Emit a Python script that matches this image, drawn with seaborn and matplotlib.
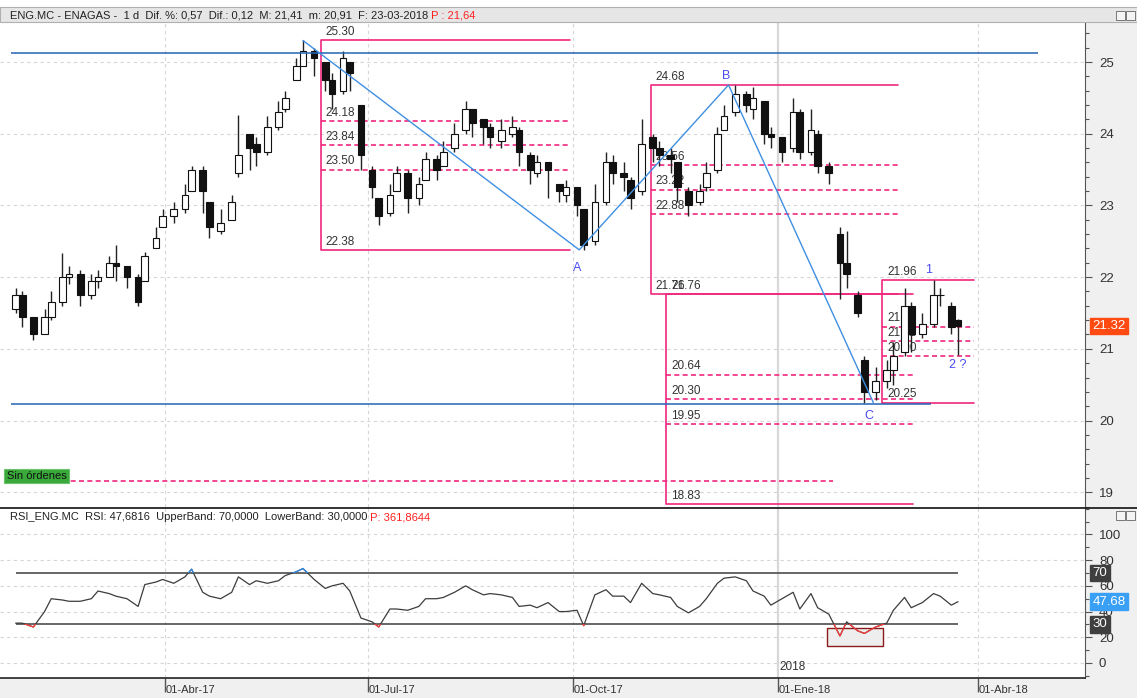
import numpy as np
import pandas as pd
import matplotlib
matplotlib.use("Agg")
import matplotlib.pyplot as plt
import matplotlib.dates as mdates
from matplotlib.patches import Rectangle
from matplotlib.lines import Line2D
from matplotlib.ticker import MultipleLocator
import seaborn as sns

# candles, one every 3 sessions up to the last session
last_session = "2018-03-23"
opens = [21.55, 21.75, 21.45, 21.2, 21.45, 21.65, 22.0, 22.05, 21.75, 21.95,
         22.0, 22.2, 22.15, 22.0, 21.95, 22.4, 22.7, 22.85, 22.95, 23.2,
         23.5, 23.05, 22.65, 22.8, 23.45, 24.0, 23.85, 23.75, 24.1, 24.35,
         24.75, 24.95, 25.15, 25.0, 24.75, 24.6, 25.0, 24.4, 23.5, 23.1,
         22.9, 23.2, 23.45, 23.1, 23.35, 23.65, 23.55, 23.8, 24.05, 24.35,
         24.2, 24.1, 23.9, 24.0, 24.05, 23.7, 23.45, 23.6, 23.3, 23.15,
         23.25, 22.95, 22.5, 23.05, 23.6, 23.45, 23.35, 23.2, 23.95, 23.8,
         23.7, 23.6, 23.2, 23.05, 23.25, 23.5, 24.05, 24.3, 24.55, 24.35,
         24.45, 24.0, 23.95, 23.8, 24.3, 23.75, 24.0, 23.55, 22.6, 22.2,
         21.75, 20.85, 20.4, 20.55, 20.7, 20.95, 21.6, 21.2, 21.35, 21.75,
         21.6, 21.4]
highs = [21.85, 21.8, 21.4, 21.55, 21.8, 22.33, 22.15, 22.1, 22.05, 22.1,
         22.3, 22.45, 22.15, 22.05, 22.35, 22.7, 22.95, 23.05, 23.3, 23.55,
         23.55, 23.05, 22.95, 23.15, 24.26, 24.0, 23.95, 24.25, 24.45, 24.6,
         25.05, 25.3, 25.2, 25.0, 24.85, 25.15, 25.0, 24.4, 23.55, 23.1,
         23.3, 23.55, 23.5, 23.4, 23.75, 23.7, 23.9, 24.15, 24.45, 24.35,
         24.2, 24.15, 24.2, 24.25, 24.1, 23.75, 23.7, 23.6, 23.3, 23.35,
         23.25, 22.95, 23.3, 23.75, 23.7, 23.6, 23.4, 24.2, 24.0, 23.9,
         23.8, 23.6, 23.25, 23.3, 23.6, 24.1, 24.4, 24.68, 24.6, 24.65,
         24.2, 24.1, 23.95, 24.5, 24.35, 24.35, 24.05, 23.6, 22.7, 22.65,
         21.8, 20.9, 20.75, 20.85, 21.1, 21.85, 21.65, 21.5, 21.96, 21.85,
         21.65, 21.41]
lows = [21.5, 21.3, 21.12, 21.25, 21.4, 21.6, 21.9, 21.6, 21.7, 21.85,
        22.0, 21.95, 21.85, 21.6, 21.95, 22.4, 22.7, 22.75, 22.9, 23.2,
        22.9, 22.55, 22.6, 22.8, 23.4, 23.5, 23.55, 23.7, 24.05, 24.3,
        24.75, 24.95, 24.8, 24.6, 24.35, 24.55, 24.6, 23.5, 23.1, 22.72,
        22.85, 23.2, 22.9, 23.0, 23.35, 23.35, 23.55, 23.75, 24.0, 23.95,
        23.85, 23.8, 23.8, 23.95, 23.55, 23.3, 23.4, 23.1, 23.05, 23.05,
        22.85, 22.38, 22.45, 23.0, 23.3, 23.2, 22.95, 23.15, 23.6, 23.55,
        23.45, 23.05, 22.85, 23.0, 23.2, 23.45, 24.05, 24.25, 24.3, 24.2,
        23.85, 23.8, 23.6, 23.75, 23.65, 23.7, 23.45, 23.3, 21.7, 21.85,
        21.45, 20.25, 20.28, 20.45, 20.5, 20.9, 20.95, 21.15, 21.3, 21.6,
        21.2, 20.91]
closes = [21.75, 21.45, 21.2, 21.45, 21.65, 22.0, 22.05, 21.75, 21.95, 22.0,
          22.2, 22.15, 22.0, 21.65, 22.3, 22.55, 22.85, 22.95, 23.15, 23.5,
          23.2, 22.7, 22.75, 23.05, 23.7, 23.8, 23.75, 24.1, 24.3, 24.5,
          24.95, 25.15, 25.05, 24.75, 24.55, 25.05, 24.85, 23.7, 23.25, 22.85,
          23.15, 23.45, 23.1, 23.3, 23.65, 23.5, 23.75, 24.0, 24.35, 24.15,
          24.1, 23.95, 24.05, 24.1, 23.75, 23.5, 23.6, 23.5, 23.2, 23.25,
          23.0, 22.45, 23.05, 23.6, 23.45, 23.4, 23.1, 23.85, 23.8, 23.7,
          23.65, 23.25, 23.0, 23.2, 23.45, 24.0, 24.25, 24.55, 24.4, 24.5,
          24.0, 23.95, 23.75, 24.3, 23.75, 24.05, 23.55, 23.45, 22.2, 22.05,
          21.5, 20.4, 20.55, 20.7, 20.9, 21.6, 21.2, 21.35, 21.75, 21.75,
          21.3, 21.32]
rsi = [31, 31, 28, 40, 50, 49, 48, 48, 50, 56,
       54, 52, 50, 44, 61, 63, 65, 62, 67, 73,
       55, 52, 50, 55, 67, 61, 64, 62, 64, 68,
       71, 73.5, 65, 58, 60, 62, 56, 35, 32, 28,
       42, 42, 41, 44, 50, 50, 51, 55, 60, 57,
       53, 54, 53, 51, 44, 45, 43, 47, 40, 40,
       41, 29, 53, 57, 52, 52, 47, 62, 54, 53,
       51, 44, 39, 44, 50, 62, 66, 67, 64, 56,
       52, 45, 50, 55, 42, 54, 43, 38, 21, 32,
       25, 23, 28, 31, 41, 51, 43, 47, 54, 52,
       45, 47.68]

# drawings on the price panel
zigzag_dates = ["2017-06-02", "2017-10-04", "2017-12-10", "2018-02-13"]
zigzag_prices = [25.30, 22.38, 24.68, 20.25]
wave_labels = ["A", "B", "C", "1", "2 ?"]
wave_dates = ["2017-10-03", "2017-12-09", "2018-02-11", "2018-03-10", "2018-03-23"]
wave_prices = [22.13, 24.80, 20.06, 22.10, 20.77]

fib_starts = ["2017-06-10", "2017-11-05", "2017-11-12", "2018-02-17"]
fib_ends = ["2017-09-30", "2018-02-24", "2018-03-03", "2018-03-30"]
fib_tops = [25.30, 24.68, 21.76, 21.96]
fib_bottoms = [22.38, 21.76, 18.83, 20.25]
fib_levels = [[24.18, 23.84, 23.50], [23.56, 23.22, 22.88],
              [20.64, 20.30, 19.95], [21.31, 21.11, 20.90]]

support_levels = [25.13, 20.23]
support_starts = ["2017-01-22", "2017-01-22"]
support_ends = ["2018-04-28", "2018-03-11"]
order_level = 19.15
order_span = ["2017-01-19", "2018-01-26"]

tick_dates = ["2017-04-01", "2017-07-01", "2017-10-01", "2018-01-01", "2018-04-01"]
tick_labels = ["01-Abr-17", "01-Jul-17", "01-Oct-17", "01-Ene-18", "01-Abr-18"]

W, H = 1137, 698
INK = "#333333"
PINK = "#f0287e"
ZIG = "#3f8fe2"
SUP = "#2565b5"
WAVE = "#4b4bf2"
GRID = "#d6d6d6"


def box(x0, y0, x1, y1):
    # pixel box (top-left origin) -> figure fraction
    return [x0 / W, 1 - y1 / H, (x1 - x0) / W, (y1 - y0) / H]


def dnum(s):
    return mdates.date2num(pd.Timestamp(s))


sns.set_style("white")
plt.rcParams["font.family"] = ["Liberation Sans", "DejaVu Sans"]

dates = pd.bdate_range(end=last_session, periods=len(closes), freq="3B")
xs = mdates.date2num(dates)
o, h, l, c = map(np.array, (opens, highs, lows, closes))

fig = plt.figure(figsize=(W / 100, H / 100), dpi=100, facecolor="#f0f0f0")
ax = fig.add_axes(box(0, 22, 1085, 507))
ax2 = fig.add_axes(box(0, 508, 1085, 678), sharex=ax)
band = fig.add_axes(box(0, 678, 1085, 698), sharex=ax)
ax.set_xlim(dnum("2017-01-17"), dnum("2018-05-19"))

# window chrome
fig.add_artist(Rectangle((0, 1 - 7 / H), 1, 7 / H, transform=fig.transFigure,
                         facecolor="white", edgecolor="none"))
fig.add_artist(Rectangle((0, 1 - 22 / H), 1, 15 / H, transform=fig.transFigure,
                         facecolor="#e6e6e6", edgecolor="#b0b0b0", lw=0.8))
fig.add_artist(Line2D([0, 1], [1 - 507.5 / H] * 2, color="#222222", lw=1.3))
for yy in (11, 511):
    for xx in (1116, 1126):
        fig.add_artist(Rectangle((xx / W, 1 - (yy + 9) / H), 9 / W, 9 / H,
                                 transform=fig.transFigure, facecolor="#f4f4f4",
                                 edgecolor="#777777", lw=0.7))

head = fig.text(10 / W, 1 - 15 / H,
                "ENG.MC - ENAGAS -  1 d  Dif. %: 0,57  Dif.: 0,12  M: 21,41  m: 20,91  F: 23-03-2018",
                fontsize=8, color="#222222", va="center")
rsi_head = fig.text(10 / W, 1 - 517 / H,
                    "RSI_ENG.MC  RSI: 47,6816  UpperBand: 70,0000  LowerBand: 30,0000",
                    fontsize=8, color="#222222", va="center")
fig.canvas.draw()
for t, extra in ((head, " P : 21,64"), (rsi_head, " P: 361,8644")):
    bb = t.get_window_extent()
    fig.text(bb.x1 / fig.bbox.width, t.get_position()[1], extra,
             fontsize=8, color="#ff2020", va="center")

# ---- price panel ----
ax.set_ylim(18.794, 25.558)
for y in range(19, 26):
    ax.axhline(y, color=GRID, lw=0.8, ls=(0, (3, 3)), zorder=0.5)
for d in tick_dates:
    if d == "2018-01-01":
        ax.axvline(dnum(d), color="#d8d8d8", lw=1.6, zorder=0.5)
    else:
        ax.axvline(dnum(d), color=GRID, lw=0.8, ls=(0, (3, 3)), zorder=0.5)

for st, en, top, bot, levs in zip(fib_starts, fib_ends, fib_tops, fib_bottoms, fib_levels):
    x0, x1 = dnum(st), dnum(en)
    ax.plot([x1, x0, x0, x1], [top, top, bot, bot], color=PINK, lw=1.2, zorder=1)
    ax.hlines(levs, x0, x1, colors=PINK, lw=1.2, linestyles=(0, (3, 2)), zorder=1)
    for v in [top] + levs + [bot]:
        ax.text(x0 + 2.2, v + 0.03, f"{v:.2f}", fontsize=8.5, color=INK,
                ha="left", va="bottom", zorder=1.5)

ax.hlines(order_level, dnum(order_span[0]), dnum(order_span[1]), colors=PINK,
          lw=1.2, linestyles=(0, (3, 2)), zorder=1)
ax.text(dnum("2017-01-20"), 19.23, "Sin órdenes", fontsize=8, color="#111111",
        ha="left", va="center", zorder=6,
        bbox=dict(boxstyle="square,pad=0.2", facecolor="#39a939", edgecolor="#6cc26c", lw=0.8))

up = c >= o
ax.vlines(xs, l, h, color="#222222", lw=1.0, zorder=3)
ax.bar(xs[up], c[up] - o[up], bottom=o[up], width=3.0, color="white",
       edgecolor="#111111", lw=0.8, zorder=4)
ax.bar(xs[~up], o[~up] - c[~up], bottom=c[~up], width=3.0, color="#111111",
       edgecolor="#111111", lw=0.8, zorder=4)

for lev, st, en in zip(support_levels, support_starts, support_ends):
    ax.hlines(lev, dnum(st), dnum(en), colors=SUP, lw=1.1, zorder=5)
ax.plot([dnum(d) for d in zigzag_dates], zigzag_prices, color=ZIG, lw=1.0, zorder=5)
for lab, d, p in zip(wave_labels, wave_dates, wave_prices):
    ax.text(dnum(d), p, lab, fontsize=9, color=WAVE, ha="center", va="center", zorder=6)

ax.yaxis.tick_right()
ax.set_yticks(range(19, 26))
ax.yaxis.set_minor_locator(MultipleLocator(0.2))
ax.tick_params(axis="y", which="major", right=True, labelright=True, left=False,
               labelleft=False, length=5, width=0.8, color="#555555",
               labelsize=9.5, labelcolor=INK, pad=5)
ax.tick_params(axis="y", which="minor", right=True, left=False, length=3,
               width=0.8, color="#555555")
ax.tick_params(axis="x", bottom=False, labelbottom=False)
for s in ("left", "top", "bottom"):
    ax.spines[s].set_visible(False)
ax.spines["right"].set_color("#555555")
ax.set_xlabel("")
ax.set_ylabel("")


def value_tag(axis, y, text, face):
    axis.text(1.007, y, text, transform=axis.get_yaxis_transform(), ha="left",
              va="center", fontsize=9.5, color="white", zorder=10, clip_on=False,
              bbox=dict(boxstyle="square,pad=0.18", facecolor=face, edgecolor=face))


value_tag(ax, 21.32, "21.32", "#ff4a12")

# ---- RSI panel ----
ax2.set_ylim(-11.7, 120.6)
for y in range(0, 101, 20):
    ax2.axhline(y, color=GRID, lw=0.8, ls=(0, (3, 3)), zorder=0.5)
for d in tick_dates:
    if d == "2018-01-01":
        ax2.axvline(dnum(d), color="#d8d8d8", lw=1.6, zorder=0.5)
    else:
        ax2.axvline(dnum(d), color=GRID, lw=0.8, ls=(0, (3, 3)), zorder=0.5)
ax2.hlines([70, 30], xs[0], xs[-1], colors="#5a5a5a", lw=1.3, zorder=1)
ax2.add_patch(Rectangle((dnum("2018-01-23"), 13.2), 25.2, 14.0, facecolor="#eeeeee",
                        edgecolor="#8b1a1a", lw=1.0, zorder=1.5))

sns.lineplot(x=xs, y=rsi, ax=ax2, color="#3c3c3c", linewidth=0.9, zorder=3)
span = xs[-1] - xs[0] + 20
low_line = ax2.plot(xs, rsi, color="#ff3b3b", lw=0.9, zorder=4)[0]
low_line.set_clip_path(Rectangle((xs[0] - 10, -100), span, 130, transform=ax2.transData))
high_line = ax2.plot(xs, rsi, color="#2f8ff0", lw=0.9, zorder=4)[0]
high_line.set_clip_path(Rectangle((xs[0] - 10, 70), span, 130, transform=ax2.transData))
ax2.text(dnum("2018-01-02"), -3, "2018", fontsize=8.5, color=INK, ha="left", va="center")

ax2.yaxis.tick_right()
ax2.set_yticks(range(0, 101, 20))
ax2.yaxis.set_minor_locator(MultipleLocator(10))
ax2.tick_params(axis="y", which="major", right=True, labelright=True, left=False,
                labelleft=False, length=5, width=0.8, color="#555555",
                labelsize=9.5, labelcolor=INK, pad=5)
ax2.tick_params(axis="y", which="minor", right=True, left=False, length=3,
                width=0.8, color="#555555")
ax2.tick_params(axis="x", bottom=False, labelbottom=False)
for s in ("left", "top", "bottom"):
    ax2.spines[s].set_visible(False)
ax2.spines["right"].set_color("#555555")
ax2.set_xlabel("")
ax2.set_ylabel("")
value_tag(ax2, 70, "70", "#3f3f3f")
value_tag(ax2, 47.68, "47.68", "#39a0f5")
value_tag(ax2, 30, "30", "#3f3f3f")

# ---- date band ----
band.set_facecolor("#f0f0f0")
band.set_ylim(0, 1)
for s in ("left", "right", "bottom"):
    band.spines[s].set_visible(False)
band.spines["top"].set_color("#222222")
band.spines["top"].set_linewidth(1.2)
band.tick_params(left=False, labelleft=False, bottom=False, labelbottom=False)
bt = band.get_xaxis_transform()
for d, lab in zip(tick_dates, tick_labels):
    band.vlines(dnum(d), 0.3, 1, colors="#555555", lw=1.0, transform=bt)
    band.text(dnum(d) + 0.4, 0.38, lab, fontsize=8, color=INK, ha="left",
              va="center", transform=bt)

fig.savefig("out.png", dpi=100, facecolor=fig.get_facecolor())
